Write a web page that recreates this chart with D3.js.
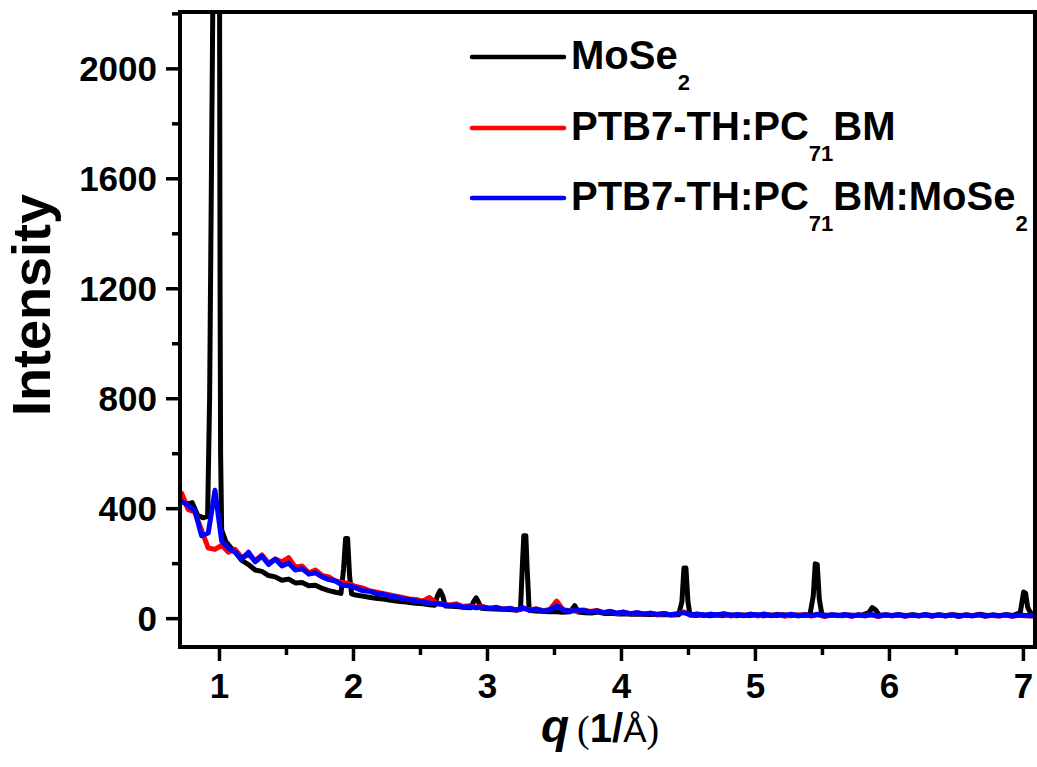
<!DOCTYPE html>
<html><head><meta charset="utf-8">
<script src="https://cdn.jsdelivr.net/npm/d3@7"></script>
<style>body{margin:0;background:#fff}svg{display:block}</style>
</head><body><svg id="c" width="1037" height="767"></svg>
<script>
// ---------- data ----------
const seriesNames = ["MoSe2", "PTB7-TH:PC71BM", "PTB7-TH:PC71BM:MoSe2"];
const seriesColors = ["#000000", "#ff0000", "#0000ff"];
const xTicks = [1, 2, 3, 4, 5, 6, 7];
const xMinorTicks = [1.5, 2.5, 3.5, 4.5, 5.5, 6.5];
const yTicks = [0, 400, 800, 1200, 1600, 2000];
const yMinorTicks = [200, 600, 1000, 1400, 1800, 2200];

// sampling grid shared by the two blend films (q in 1/Å)
const qGrid = d3.range(128).map(i => +(0.72 + i * 0.05).toFixed(2));

const redI = [455,395,385,320,255,250,265,240,250,220,
  230,210,230,200,215,205,220,185,190,165,
  175,155,150,135,130,125,115,110,100,95,
  90,85,80,75,70,68,62,75,55,52,
  48,52,42,45,40,42,36,40,32,36,
  28,35,30,34,27,32,62,30,28,25,
  30,24,28,20,25,17,22,15,20,14,
  18,12,17,12,15,22,11,14,9,14,
  11,15,8,13,10,14,8,13,10,14,
  7,12,10,13,8,12,6,12,9,12,
  7,11,9,12,6,11,9,12,7,11,
  8,12,7,11,8,12,6,11,9,12,
  7,10,8,11,7,10,9,8];

const blueI = [425,410,390,300,310,465,280,255,240,215,
  240,205,225,195,215,190,200,175,180,160,
  165,150,140,135,120,118,110,100,98,90,
  88,80,78,70,68,62,60,55,52,50,
  45,48,40,42,38,40,35,38,32,35,
  30,38,28,32,25,30,45,30,25,30,
  28,22,26,20,24,18,22,16,20,15,
  18,14,17,12,16,20,12,15,10,14,
  12,16,10,13,9,14,11,15,9,13,
  10,14,8,12,10,14,8,12,10,13,
  8,12,9,13,8,12,10,13,8,11,
  9,13,8,12,9,12,7,11,9,12,
  8,11,9,12,8,11,10,9];

const blackQ = [0.72,0.77,0.80,0.84,0.88,0.915,0.93,0.945,0.96,0.985,1.003,1.008,1.012,1.02,
  1.05,1.09,1.13,1.17,1.22,1.27,1.32,1.37,1.42,1.47,1.52,1.57,1.62,1.67,1.72,1.77,1.82,1.87,1.91,
  1.93,1.945,1.96,1.975,1.99,2.02,2.07,2.12,2.17,2.22,2.27,2.32,2.37,2.42,2.47,2.52,2.57,2.61,
  2.63,2.65,2.67,2.69,2.74,2.79,2.84,2.88,2.90,2.92,2.94,2.96,3.01,3.06,3.11,3.16,3.21,3.25,
  3.265,3.275,3.29,3.30,3.315,3.36,3.41,3.46,3.51,3.56,3.62,3.655,3.68,3.73,3.78,3.83,3.88,3.93,
  3.98,4.03,4.08,4.13,4.18,4.23,4.28,4.33,4.38,4.43,4.455,4.47,4.485,4.50,4.515,4.56,4.61,4.66,
  4.71,4.76,4.81,4.86,4.91,4.96,5.01,5.06,5.11,5.16,5.21,5.26,5.31,5.36,5.41,5.435,5.45,5.465,
  5.48,5.50,5.55,5.60,5.65,5.70,5.75,5.80,5.85,5.875,5.90,5.93,5.98,6.03,6.08,6.13,6.18,6.23,
  6.28,6.33,6.38,6.43,6.48,6.53,6.58,6.63,6.68,6.73,6.78,6.83,6.88,6.93,6.98,7.005,7.02,7.035,
  7.05,7.07];
const blackI = [430,415,420,375,365,370,800,1700,2600,5000,2600,1200,600,320,
  280,255,235,210,195,175,170,155,150,138,142,128,130,118,120,108,100,94,90,
  180,290,290,150,88,84,80,76,72,70,66,62,60,57,54,52,49,47,
  80,100,80,44,43,41,39,38,60,74,55,36,34,33,32,31,30,31,
  200,300,300,180,29,26,25,23,24,21,23,45,22,20,19,22,17,18,
  15,16,14,15,13,14,12,13,11,12,60,182,182,60,11,10,12,9,
  11,10,12,9,11,10,12,9,11,10,12,9,11,10,12,80,198,195,
  70,12,10,11,9,11,10,11,20,38,30,10,11,9,11,10,12,9,
  11,10,11,9,12,10,11,9,14,10,11,9,12,10,20,95,90,40,
  25,12];

// ---------- layout ----------
const M = {l: 180, r: 1035, t: 12, b: 647};
const svg = d3.select("#c");
const x = d3.scaleLinear().domain([0.709, 7.09]).range([M.l, M.r]);
const y = d3.scaleLinear().domain([-105, 2205]).range([M.b, M.t]);
const sans = "'Liberation Sans', Arial, Helvetica, sans-serif";
const serif = "'Liberation Serif', 'Times New Roman', serif";

svg.append("defs").append("clipPath").attr("id", "plotclip")
  .append("rect").attr("x", M.l).attr("y", M.t).attr("width", M.r - M.l).attr("height", M.b - M.t);

// ---------- curves ----------
const line = d3.line().x(d => x(d[0])).y(d => y(d[1])).curve(d3.curveLinear);
const curves = [
  blackQ.map((q, i) => [q, blackI[i]]),
  qGrid.map((q, i) => [q, redI[i]]),
  qGrid.map((q, i) => [q, blueI[i]])
];
const gCurves = svg.append("g").attr("clip-path", "url(#plotclip)");
curves.forEach((c, k) => {
  gCurves.append("path").datum(c).attr("d", line)
    .attr("fill", "none").attr("stroke", seriesColors[k])
    .attr("stroke-width", 5).attr("stroke-linejoin", "round").attr("stroke-linecap", "round");
});

// ---------- axes ----------
function styleAxis(g) {
  g.select(".domain").remove();
  g.selectAll(".tick line").attr("stroke", "#000").attr("stroke-width", 3.5);
  g.selectAll("text").attr("font-family", sans).attr("font-weight", "bold")
    .attr("font-size", 35).attr("fill", "#000");
}
const gx = svg.append("g").attr("transform", `translate(0,${M.b})`)
  .call(d3.axisBottom(x).tickValues(xTicks).tickSize(14).tickPadding(8).tickFormat(d3.format("d")));
styleAxis(gx);
gx.selectAll("text").attr("dy", null).attr("y", 51);
const gxm = svg.append("g").attr("transform", `translate(0,${M.b})`)
  .call(d3.axisBottom(x).tickValues(xMinorTicks).tickSize(8).tickFormat(""));
styleAxis(gxm);

const gy = svg.append("g").attr("transform", `translate(${M.l},0)`)
  .call(d3.axisLeft(y).tickValues(yTicks).tickSize(14).tickPadding(9).tickFormat(d3.format("d")));
styleAxis(gy);
gy.selectAll("text").attr("dy", "0.36em");
const gym = svg.append("g").attr("transform", `translate(${M.l},0)`)
  .call(d3.axisLeft(y).tickValues(yMinorTicks).tickSize(8).tickFormat(""));
styleAxis(gym);

// frame
svg.append("rect").attr("x", M.l).attr("y", M.t).attr("width", M.r - M.l).attr("height", M.b - M.t)
  .attr("fill", "none").attr("stroke", "#000").attr("stroke-width", 4);

// ---------- axis titles ----------
svg.append("text").attr("transform", `translate(50,${(190 + 420) / 2}) rotate(-90)`)
  .attr("text-anchor", "middle").attr("font-family", sans).attr("font-weight", "bold")
  .attr("font-size", 54).attr("fill", "#000").text("Intensity");

const xt = svg.append("text").attr("x", 541).attr("y", 742).attr("fill", "#000");
xt.append("tspan").attr("font-family", sans).attr("font-weight", "bold").attr("font-style", "italic")
  .attr("font-size", 46).text("q");
xt.append("tspan").attr("font-family", serif).attr("font-size", 38).attr("dx", 8).text("(");
xt.append("tspan").attr("font-family", sans).attr("font-weight", "bold").attr("font-size", 40).text("1/");
xt.append("tspan").attr("font-family", sans).attr("font-size", 35).text("Å");
xt.append("tspan").attr("font-family", serif).attr("font-size", 38).text(")");

// ---------- legend ----------
const legendY = [57, 128, 198];
const legendParts = [
  [["MoSe", 0], ["2", 1]],
  [["PTB7-TH:PC", 0], ["71", 1], ["BM", 0]],
  [["PTB7-TH:PC", 0], ["71", 1], ["BM:MoSe", 0], ["2", 1]]
];
seriesNames.forEach((name, k) => {
  svg.append("line").attr("x1", 472).attr("x2", 564).attr("y1", legendY[k]).attr("y2", legendY[k])
    .attr("stroke", seriesColors[k]).attr("stroke-width", 4.5).attr("stroke-linecap", "round");
  const t = svg.append("text").attr("x", 571).attr("y", legendY[k] + 12)
    .attr("font-family", sans).attr("font-weight", "bold").attr("fill", "#000");
  let sub = false;
  legendParts[k].forEach(([s, isSub]) => {
    const ts = t.append("tspan").text(s);
    if (isSub && !sub) { ts.attr("font-size", 22).attr("dy", 21); sub = true; }
    else if (!isSub && sub) { ts.attr("font-size", 40).attr("dy", -21); sub = false; }
    else ts.attr("font-size", isSub ? 22 : 40);
  });
});
</script></body></html>
